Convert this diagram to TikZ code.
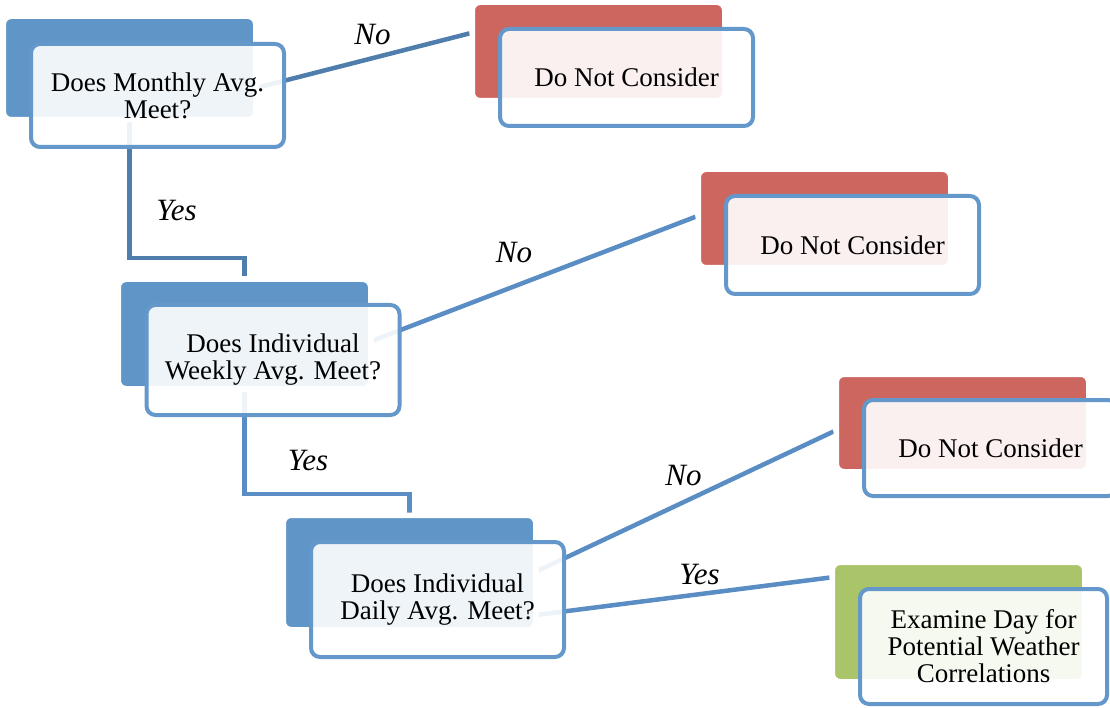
\documentclass[tikz,border=0pt]{standalone}
\usepackage{fontspec}
\setmainfont{Liberation Serif}
\usetikzlibrary{calc}
\pgfdeclarelayer{bg}
\pgfsetlayers{bg,main}

\definecolor{backblue}{RGB}{96,149,200}
\definecolor{backred}{RGB}{204,102,95}
\definecolor{backgreen}{RGB}{170,196,106}
\definecolor{frameblue}{RGB}{100,152,202}
\definecolor{linkdark}{RGB}{79,125,172}
\definecolor{linklight}{RGB}{90,141,196}

\tikzset{
  backbox/.style={draw=white, line width=5.5pt, rounded corners=8pt, inner sep=0pt},
  frontbox/.style={draw=frameblue, line width=4pt, rounded corners=9pt,
    fill=white, fill opacity=0.9, text opacity=1, align=center, inner sep=0pt,
    font=\fontsize{27}{27}\selectfont},
  link/.style={line width=4.5pt},
  answer/.style={font=\itshape\fontsize{31}{31}\selectfont, inner sep=0pt, anchor=base}
}

\begin{document}
\begin{tikzpicture}[x=1pt,y=-1pt]
\useasboundingbox (0,0) rectangle (1110,708);
\clip (0,0) rectangle (1110,708);

% coloured back panels
\node[backbox, fill=backblue,  minimum width=252.5pt, minimum height=103.5pt] (b1) at (129.5,68) {};
\node[backbox, fill=backred,   minimum width=252.5pt, minimum height=98.5pt]  (b2) at (598.5,51.5) {};
\node[backbox, fill=backblue,  minimum width=252.5pt, minimum height=109.5pt] (b3) at (244.5,334) {};
\node[backbox, fill=backred,   minimum width=252.5pt, minimum height=98.5pt]  (b4) at (824.5,218.5) {};
\node[backbox, fill=backblue,  minimum width=252.5pt, minimum height=114.5pt] (b5) at (409.5,572.5) {};
\node[backbox, fill=backred,   minimum width=252.5pt, minimum height=97.5pt]  (b6) at (962.5,423) {};
\node[backbox, fill=backgreen, minimum width=252.5pt, minimum height=119.5pt] (b7) at (958.5,622) {};

% framed text panels
\node[frontbox, minimum width=253pt, minimum height=103pt] (f1) at (157.5,95.5) {Does Monthly Avg.\\Meet?};
\node[frontbox, minimum width=253pt, minimum height=97pt]  (f2) at (626.5,77.5) {Do Not Consider};
\node[frontbox, minimum width=253pt, minimum height=110pt] (f3) at (273,360) {Does Individual\\Weekly Avg. Meet?};
\node[frontbox, minimum width=253pt, minimum height=98pt]  (f4) at (852.5,245) {Do Not Consider};
\node[frontbox, minimum width=253pt, minimum height=115pt] (f5) at (437.5,599.5) {Does Individual\\Daily Avg. Meet?};
\node[frontbox, minimum width=253pt, minimum height=96pt]  (f6) at (990.5,448) {Do Not Consider};
\node[frontbox, minimum width=247pt, minimum height=115pt] (f7) at (983.5,646.5) {Examine Day for\\Potential Weather\\Correlations};

% connectors, kept underneath the panels
\begin{pgfonlayer}{bg}
\draw[link, draw=linkdark]  ($(b1.east)+(0,19.3)$) -- ($(b2.west)+(0,-18.1)$);
\draw[link, draw=linkdark]  (b1.south) -- ++(0,135.5) -| (b3.north);
\draw[link, draw=linklight] ($(b3.east)+(0,6.4)$) -- ($(b4.west)+(0,-1.7)$);
\draw[link, draw=linklight] (b3.south) -- ++(0,102.25) -| (b5.north);
\draw[link, draw=linklight] ($(b5.east)+(0,-2)$) -- ($(b6.west)+(0,8.5)$);
\draw[link, draw=linklight] ($(b5.east)+(0,42.2)$) -- ($(b7.west)+(0,-44.4)$);
\end{pgfonlayer}

% branch answers
\node[answer] (a1) at (372.5,45) {No};
\node[answer] (a2) at (176.5,221) {Yes};
\node[answer] (a3) at (514,263) {No};
\node[answer] (a4) at (308,470) {Yes};
\node[answer] (a5) at (683.5,485) {No};
\node[answer] (a6) at (699.5,584) {Yes};
\end{tikzpicture}
\end{document}
